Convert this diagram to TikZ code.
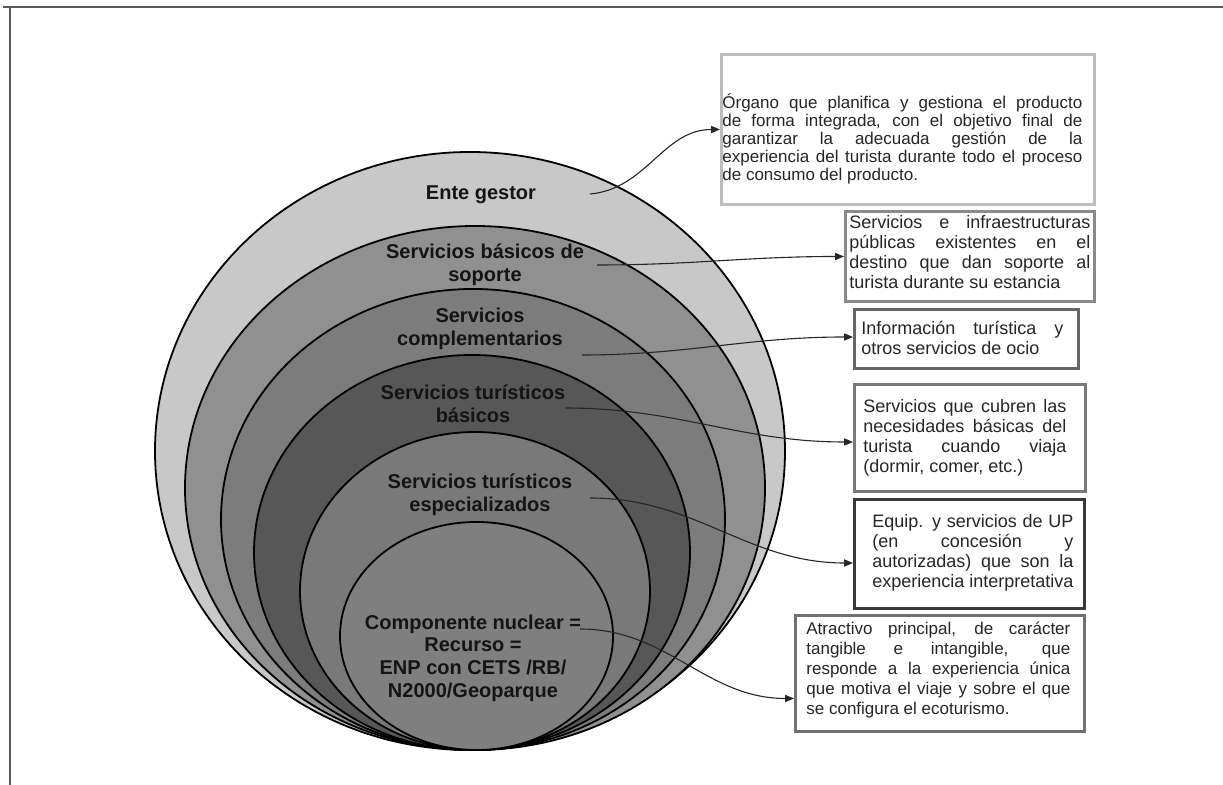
\documentclass[tikz,border=0pt]{standalone}
\usepackage{fontspec}
\setmainfont{Liberation Sans}
\usetikzlibrary{arrows.meta,calc}
% one justified line of fixed width
\newcommand\spreadline[2]{\makebox[#1][s]{#2}}
\definecolor{ringA}{HTML}{C8C8C8}
\definecolor{ringB}{HTML}{909090}
\definecolor{ringC}{HTML}{7C7C7C}
\definecolor{ringD}{HTML}{575757}
\definecolor{ringE}{HTML}{797979}
\definecolor{ringF}{HTML}{7F7F7F}
\definecolor{bxA}{HTML}{BDBDBD}
\definecolor{bxB}{HTML}{8A8A8A}
\definecolor{bxC}{HTML}{666666}
\definecolor{bxD}{HTML}{7A7A7A}
\definecolor{bxE}{HTML}{383838}
\definecolor{bxF}{HTML}{707070}
\begin{document}
\begin{tikzpicture}[x=0.5pt,y=-0.5pt,
  ring/.style={draw=black,line width=0.9pt},
  lbl/.style={font=\bfseries\fontsize{10}{11.3}\selectfont,align=center,inner sep=0pt,text=black!92},
  infobox/.style={rectangle,line width=1.5pt,fill=white,inner sep=0pt,anchor=north west},
  infotxt/.style={font=\fontsize{9}{10}\selectfont,align=left,inner sep=0pt,anchor=west,text=black!85},
  conn/.style={line width=0.55pt,draw=black!85,-{Triangle[length=4.5pt,width=3.6pt]}}
]
\useasboundingbox (0,0) rectangle (1223,785);

% page frame
\draw[line width=1.1pt,black!65] (3,7) -- (1223,7);
\draw[line width=1.1pt,black!65] (10,7) -- (10,785);

% nested rings
\filldraw[ring,fill=ringA] (470,451)   ellipse [x radius=157.5pt, y radius=149.5pt];
\filldraw[ring,fill=ringB] (475,488)   ellipse [x radius=145pt,   y radius=131pt];
\filldraw[ring,fill=ringC] (473,519.5) ellipse [x radius=126pt,   y radius=115.25pt];
\filldraw[ring,fill=ringD] (472,552.5) ellipse [x radius=109pt,   y radius=98.75pt];
\filldraw[ring,fill=ringE] (475,591)   ellipse [x radius=87.5pt,  y radius=79.5pt];
\filldraw[ring,fill=ringF] (476.5,636) ellipse [x radius=68.25pt, y radius=57pt];

% ring labels
\node[lbl] (l1) at (481,195) {Ente gestor};
\node[lbl] (l2) at (485,265) {Servicios básicos de\\soporte};
\node[lbl] (l3) at (480,329) {Servicios\\complementarios};
\node[lbl] (l4) at (473,404) {Servicios turísticos\\básicos};
\node[lbl] (l5) at (480,495) {Servicios turísticos\\especializados};
\node[lbl] (l6) at (473,658) {Componente nuclear =\\Recurso =\\ENP con CETS /RB/\\N2000/Geoparque};

% connector origins
\coordinate (c1) at (590,194);
\coordinate (c2) at (597,265);
\coordinate (c3) at (582,355);
\coordinate (c4) at (565,408);
\coordinate (c5) at (590,498);
\coordinate (c6) at (580,629);

% description boxes
\node[infobox,draw=bxA,minimum width=186.5pt,minimum height=75pt]   (b1) at (720,53)  {};
\node[infobox,draw=bxB,minimum width=124.5pt,minimum height=45pt]   (b2) at (844,210) {};
\node[infobox,draw=bxC,minimum width=112pt,minimum height=29.5pt]   (b3) at (853,308) {};
\node[infobox,draw=bxD,minimum width=115.5pt,minimum height=53.5pt] (b4) at (853,383) {};
\node[infobox,draw=bxE,minimum width=115pt,minimum height=54.5pt]   (b5) at (853,498) {};
\node[infobox,draw=bxF,minimum width=144.5pt,minimum height=58pt]   (b6) at (794,614) {};

\node[infotxt,font=\fontsize{8.5}{9}\selectfont] (t1) at (722,139) {%
\spreadline{180pt}{Órgano que planifica y gestiona el producto}\\
\spreadline{180pt}{de forma integrada, con el objetivo final de}\\
\spreadline{180pt}{garantizar la adecuada gestión de la}\\
\spreadline{180pt}{experiencia del turista durante todo el proceso}\\
de consumo del producto.};

\node[infotxt] (t2) at (849,252) {%
\spreadline{120.5pt}{Servicios e infraestructuras}\\
\spreadline{120.5pt}{públicas existentes en el}\\
\spreadline{120.5pt}{destino que dan soporte al}\\
turista durante su estancia};

\node[infotxt] (t3) at (861,338) {%
\spreadline{101pt}{Información turística y}\\
otros servicios de ocio};

\node[infotxt] (t4) at (863,438) {%
\spreadline{101.5pt}{Servicios que cubren las}\\
\spreadline{101.5pt}{necesidades básicas del}\\
\spreadline{101.5pt}{turista cuando viaja}\\
(dormir, comer, etc.)};

\node[infotxt] (t5) at (872,553) {%
\spreadline{100.5pt}{Equip. y servicios de UP}\\
\spreadline{100.5pt}{(en concesión y}\\
\spreadline{100.5pt}{autorizadas) que son la}\\
experiencia interpretativa};

\node[infotxt,font=\fontsize{8.5}{9.9}\selectfont] (t6) at (806,670) {%
\spreadline{132pt}{Atractivo principal, de carácter}\\
\spreadline{132pt}{tangible e intangible, que}\\
\spreadline{132pt}{responde a la experiencia única}\\
\spreadline{132pt}{que motiva el viaje y sobre el que}\\
se configura el ecoturismo.};

% connectors
\draw[conn] (c1) to[out=5,in=180] (b1.west);
\draw[conn] (c2) to[out=0,in=180] (b2.west);
\draw[conn] (c3) to[out=0,in=180] ($(b3.west)+(0,-2)$);
\draw[conn] (c4) to[out=0,in=180] ($(b4.west)+(0,4)$);
\draw[conn] (c5) to[out=0,in=180] ($(b5.west)+(0,9)$);
\draw[conn] (c6) to[out=0,in=180] ($(b6.west)+(0,25)$);
\end{tikzpicture}
\end{document}
